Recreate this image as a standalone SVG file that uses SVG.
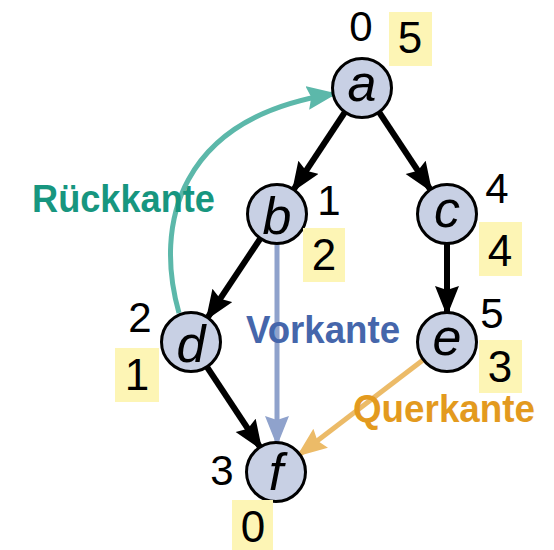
<svg xmlns="http://www.w3.org/2000/svg" width="554" height="550" viewBox="0 0 554 550">
<style>
.node circle{fill:#c8d0e4;stroke:#000;stroke-width:3}
.nl{font-family:"Liberation Sans",Arial,sans-serif;font-style:italic;font-size:52px;text-anchor:middle;fill:#000}
.num{font-family:"Liberation Sans",Arial,sans-serif;font-size:42px;text-anchor:middle;fill:#000}
.bn{font-size:44px}
.box{fill:#fdf5b5}
.tree{stroke:#000;stroke-width:6;fill:none}
.lbl{font-family:"Liberation Sans",Arial,sans-serif;font-weight:bold;font-size:39px}
</style>
<defs>
<marker id="ab" markerUnits="userSpaceOnUse" markerWidth="28" markerHeight="26" refX="26" refY="12" orient="auto"><path d="M0,0 L25,10 L26,12 L25,14 L0,24 L4,12 Z" fill="#000"/></marker>
<marker id="av" markerUnits="userSpaceOnUse" markerWidth="28" markerHeight="26" refX="26" refY="12" orient="auto"><path d="M0,0 L25,10 L26,12 L25,14 L0,24 L4,12 Z" fill="#8fa2cc"/></marker>
<marker id="ao" markerUnits="userSpaceOnUse" markerWidth="28" markerHeight="26" refX="26" refY="12" orient="auto"><path d="M0,0 L25,10 L26,12 L25,14 L0,24 L4,12 Z" fill="#ecbb68"/></marker>
<marker id="at" markerUnits="userSpaceOnUse" markerWidth="28" markerHeight="26" refX="26" refY="12" orient="auto"><path d="M0,0 L25,10 L26,12 L25,14 L0,24 L4,12 Z" fill="#5cb8aa"/></marker>
</defs>
<g id="connectors">
<line class="tree" x1="345" y1="112" x2="294" y2="189" marker-end="url(#ab)"/>
<line class="tree" x1="379" y1="112" x2="430" y2="189" marker-end="url(#ab)"/>
<line class="tree" x1="260" y1="239" x2="208" y2="317" marker-end="url(#ab)"/>
<line class="tree" x1="447" y1="244" x2="447" y2="312" marker-end="url(#ab)"/>
<line class="tree" x1="207" y1="367" x2="260" y2="447" marker-end="url(#ab)"/>
<line x1="277" y1="244" x2="277" y2="442" stroke="#8fa2cc" stroke-width="5" marker-end="url(#av)"/>
<line x1="423" y1="360" x2="300" y2="454" stroke="#ecbb68" stroke-width="5" marker-end="url(#ao)"/>
<path d="M179,313 C154,225 178,118 333,94" fill="none" stroke="#5cb8aa" stroke-width="5" marker-end="url(#at)"/>
<text class="lbl" x="32" y="212" textLength="183" lengthAdjust="spacingAndGlyphs" fill="#17967f">Rückkante</text>
<text class="lbl" x="246" y="343" textLength="154" lengthAdjust="spacingAndGlyphs" fill="#4566ab">Vorkante</text>
<text class="lbl" x="353" y="422" textLength="182" lengthAdjust="spacingAndGlyphs" fill="#e39a1e">Querkante</text>
</g>
<g id="a" class="node"><circle cx="362" cy="88" r="29.5"/><text class="nl" x="362" y="101">a</text>
<text class="num" x="361" y="41">0</text><rect class="box" x="389" y="12" width="43" height="54"/><text class="num bn" x="410" y="53">5</text></g>
<g id="b" class="node"><circle cx="277" cy="214" r="29.5"/><text class="nl" x="277" y="234">b</text>
<text class="num" x="329" y="215">1</text><rect class="box" x="303" y="228" width="42" height="54"/><text class="num bn" x="324" y="270">2</text></g>
<g id="c" class="node"><circle cx="447" cy="214" r="29.5"/><text class="nl" x="447" y="227">c</text>
<text class="num" x="497" y="203">4</text><rect class="box" x="479" y="222" width="43" height="54"/><text class="num bn" x="500" y="266">4</text></g>
<g id="d" class="node"><circle cx="191" cy="342" r="29.5"/><text class="nl" x="191" y="362">d</text>
<text class="num" x="140" y="332">2</text><rect class="box" x="115" y="348" width="44" height="54"/><text class="num bn" x="137" y="390">1</text></g>
<g id="e" class="node"><circle cx="447" cy="342" r="29.5"/><text class="nl" x="447" y="355">e</text>
<text class="num" x="492" y="328">5</text><rect class="box" x="479" y="340" width="43" height="53"/><text class="num bn" x="500" y="382">3</text></g>
<g id="f" class="node"><circle cx="276" cy="472" r="29.5"/><text class="nl" x="276" y="490">f</text>
<text class="num" x="222" y="485">3</text><rect class="box" x="232" y="500" width="41" height="50"/><text class="num bn" x="253" y="542">0</text></g>
</svg>
